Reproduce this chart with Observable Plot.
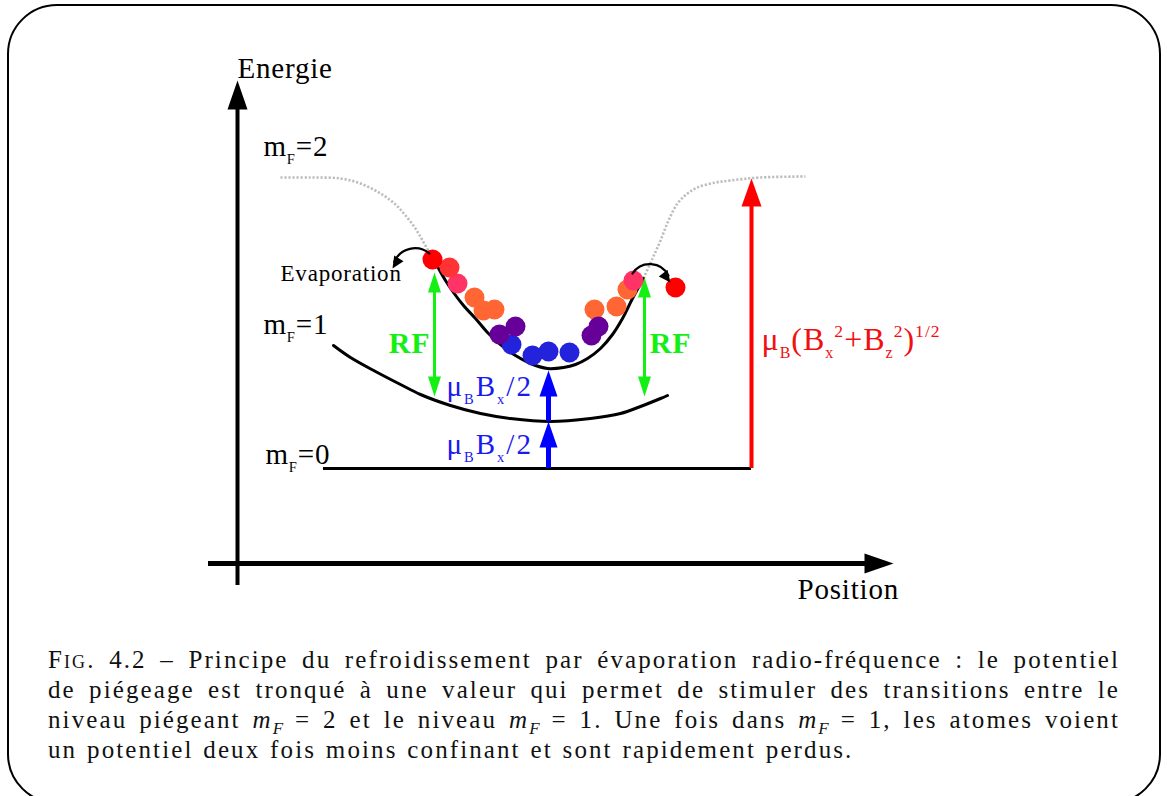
<!DOCTYPE html>
<html><head><meta charset="utf-8">
<script src="https://cdn.jsdelivr.net/npm/d3@7"></script>
<script src="https://cdn.jsdelivr.net/npm/@observablehq/plot@0.6"></script>
<style>
body{margin:0;background:#fff;width:1167px;height:796px;position:relative;overflow:hidden;font-family:"Liberation Serif","DejaVu Serif","Times New Roman",Times,serif}
#frame{position:absolute;left:7px;top:4px;width:1154px;height:800px;border:2px solid #000;border-radius:50px;box-sizing:border-box}
#chart{position:absolute;left:0;top:0}
#caption{position:absolute;left:48px;top:645px;width:1072px;font-size:25px;line-height:30px;color:#111;letter-spacing:2.1px;word-spacing:1.5px}
#caption div{text-align:justify;text-align-last:justify;height:30px;white-space:nowrap}
#caption div.last{text-align-last:left}
#caption sub{line-height:0;font-size:17px;letter-spacing:0}
.sc{font-variant:small-caps}
</style>
</head><body>
<div id="frame"></div>
<div id="chart"></div>
<div id="caption">
<div><span class="sc">Fig.</span> 4.2 – Principe du refroidissement par évaporation radio-fréquence : le potentiel</div>
<div>de piégeage est tronqué à une valeur qui permet de stimuler des transitions entre le</div>
<div>niveau piégeant <i>m</i><sub><i>F</i></sub> = 2 et le niveau <i>m</i><sub><i>F</i></sub> = 1. Une fois dans <i>m</i><sub><i>F</i></sub> = 1, les atomes voient</div>
<div class="last">un potentiel deux fois moins confinant et sont rapidement perdus.</div>
</div>
<script>
// Coordinates: position (trap centre = 0) and energy (m_F=0 level = 0), arbitrary units
const energyAxis = [{x: -3.13, y1: -1.17, y2: 3.88}];
const positionAxis = [{y: -0.95, x1: -3.42, x2: 3.43}];
const level0 = [{y: 0, x1: -2.27, x2: 2.01}];
const level1 = [
  {x: -2.17, y: 1.23}, {x: -2.00, y: 1.11}, {x: -1.75, y: 0.97}, {x: -1.50, y: 0.84},
  {x: -1.30, y: 0.74}, {x: -1.00, y: 0.63}, {x: -0.70, y: 0.55}, {x: -0.40, y: 0.50},
  {x: 0.00, y: 0.47}, {x: 0.40, y: 0.50}, {x: 0.70, y: 0.55}, {x: 0.90, y: 0.62},
  {x: 1.10, y: 0.70}, {x: 1.17, y: 0.73}
];
const level2Left = [
  {x: -2.70, y: 2.91}, {x: -2.40, y: 2.91}, {x: -2.10, y: 2.90}, {x: -1.90, y: 2.85},
  {x: -1.70, y: 2.75}, {x: -1.55, y: 2.64}, {x: -1.45, y: 2.53}, {x: -1.35, y: 2.40},
  {x: -1.28, y: 2.28}, {x: -1.20, y: 2.14}, {x: -1.13, y: 2.02}
];
const level2Trap = [
  {x: -1.13, y: 2.02}, {x: -1.05, y: 1.88}, {x: -0.97, y: 1.76}, {x: -0.87, y: 1.63},
  {x: -0.75, y: 1.50}, {x: -0.63, y: 1.36}, {x: -0.50, y: 1.24}, {x: -0.35, y: 1.13},
  {x: -0.20, y: 1.05}, {x: -0.03, y: 1.00}, {x: 0.13, y: 1.01}, {x: 0.25, y: 1.04},
  {x: 0.37, y: 1.10}, {x: 0.50, y: 1.20}, {x: 0.62, y: 1.34}, {x: 0.72, y: 1.50},
  {x: 0.82, y: 1.70}, {x: 0.93, y: 1.90}
];
const level2Right = [
  {x: 0.93, y: 1.90}, {x: 1.02, y: 2.10}, {x: 1.10, y: 2.28}, {x: 1.18, y: 2.48},
  {x: 1.27, y: 2.65}, {x: 1.37, y: 2.75}, {x: 1.47, y: 2.81}, {x: 1.65, y: 2.86},
  {x: 1.80, y: 2.88}, {x: 2.10, y: 2.91}, {x: 2.55, y: 2.92}
];
const atoms = [
  {x: -0.39, y: 1.24, c: "#2323dc"}, {x: -0.18, y: 1.13, c: "#2323dc"},
  {x: -0.02, y: 1.17, c: "#2323dc"}, {x: 0.19, y: 1.16, c: "#2323dc"},
  {x: -0.76, y: 1.71, c: "#ff6633"}, {x: -0.67, y: 1.58, c: "#ff6633"},
  {x: -0.56, y: 1.59, c: "#ff6633"},
  {x: 0.44, y: 1.59, c: "#ff6633"}, {x: 0.66, y: 1.62, c: "#ff6633"},
  {x: 0.77, y: 1.79, c: "#ff6633"},
  {x: -0.51, y: 1.34, c: "#660099"}, {x: -0.35, y: 1.42, c: "#660099"},
  {x: 0.41, y: 1.33, c: "#660099"}, {x: 0.48, y: 1.42, c: "#660099"},
  {x: -0.93, y: 1.85, c: "#ff3366"}, {x: 0.83, y: 1.88, c: "#ff3366"},
  {x: -1.01, y: 2.01, c: "#ff3333"},
  {x: -1.18, y: 2.09, c: "#ff0000"}, {x: 1.25, y: 1.81, c: "#ff0000"}
];
// y1 = base, y2 = tip
const rfArrows = [{x: -1.16, y1: 0.72, y2: 1.96}, {x: 0.94, y1: 0.72, y2: 1.91}];
const blueArrows = [{x: -0.02, y1: 0, y2: 0.47}, {x: -0.02, y1: 0.47, y2: 0.98}];
const redArrow = [{x: 2.01, y1: 0, y2: 2.90}];
const evapLeft = [{x1: -1.21, y1: 2.15, x2: -1.58, y2: 2.00}];
const evapRight = [{x1: 0.82, y1: 1.95, x2: 1.20, y2: 1.86}];
const axisLabels = [{x: -3.13, y: 3.91, text: "Energie"}, {x: 2.47, y: -1.30, text: "Position"}];
const levelLabels = [
  {x: -2.87, y: 3.13, text: "m_{F}=2"},
  {x: -2.87, y: 1.35, text: "m_{F}=1"},
  {x: -2.85, y: 0.05, text: "m_{F}=0"}
];
const evapLabel = [{x: -2.70, y: 1.88, text: "Evaporation"}];
const rfLabels = [{x: -1.41, y: 1.16, text: "RF"}, {x: 1.20, y: 1.16, text: "RF"}];
const blueLabels = [{x: -1.04, y: 0.73, text: "μ_{B}B_{x}/2"}, {x: -1.04, y: 0.15, text: "μ_{B}B_{x}/2"}];
const redLabel = [{x: 2.11, y: 1.19, text: "μ_{B}(B_{x}^{2}+B_{z}^{2})^{1/2}"}];

function head(len, half) {
  return {draw(ctx) { ctx.moveTo(0, 0); ctx.lineTo(half, len); ctx.lineTo(-half, len); ctx.closePath(); }};
}

const GREEN = "#14f014", BLUE = "#0000ff", RED = "#ff0000", BLUETXT = "#1a1af0", REDTXT = "#f01010";
const FONT = "'Liberation Serif', 'DejaVu Serif', 'Times New Roman', Times, serif";

const chart = Plot.plot({
  width: 1167, height: 630, margin: 0,
  x: {domain: [-5.5, 6.17], axis: null},
  y: {domain: [-1.62, 4.68], axis: null},
  style: {fontFamily: FONT, background: "transparent", overflow: "visible", letterSpacing: "0.8px"},
  marks: [
    Plot.line(level2Left, {x: "x", y: "y", curve: "catmull-rom", stroke: "#bdbdbd", strokeWidth: 2.6, strokeDasharray: "2.2,1.8", strokeLinecap: "butt"}),
    Plot.line(level2Right, {x: "x", y: "y", curve: "catmull-rom", stroke: "#bdbdbd", strokeWidth: 2.6, strokeDasharray: "2.2,1.8", strokeLinecap: "butt"}),
    Plot.line(level2Trap, {x: "x", y: "y", curve: "catmull-rom", stroke: "#000", strokeWidth: 3}),
    Plot.line(level1, {x: "x", y: "y", curve: "catmull-rom", stroke: "#000", strokeWidth: 3}),
    Plot.ruleY(level0, {y: "y", x1: "x1", x2: "x2", stroke: "#000", strokeWidth: 3}),
    // axes (rule y1 = top end so insetTop trims the arrow tip)
    Plot.ruleX(energyAxis, {x: "x", y1: "y2", y2: "y1", stroke: "#000", strokeWidth: 4, insetTop: 20}),
    Plot.dot(energyAxis, {x: "x", y: "y2", symbol: head(29, 10), fill: "#000", stroke: "none"}),
    Plot.ruleY(positionAxis, {y: "y", x1: "x1", x2: "x2", stroke: "#000", strokeWidth: 5, insetRight: 20}),
    Plot.dot(positionAxis, {x: "x2", y: "y", symbol: head(29, 10), rotate: 90, fill: "#000", stroke: "none"}),
    // blue arrows
    Plot.ruleX(blueArrows, {x: "x", y1: "y2", y2: "y1", stroke: BLUE, strokeWidth: 5, insetTop: 15}),
    Plot.dot(blueArrows, {x: "x", y: "y2", symbol: head(26, 9), fill: BLUE, stroke: "none"}),
    // red arrow
    Plot.ruleX(redArrow, {x: "x", y1: "y2", y2: "y1", stroke: RED, strokeWidth: 4, insetTop: 18}),
    Plot.dot(redArrow, {x: "x", y: "y2", symbol: head(28, 10), fill: RED, stroke: "none"}),
    // RF arrows
    Plot.ruleX(rfArrows, {x: "x", y1: "y2", y2: "y1", stroke: GREEN, strokeWidth: 3, insetTop: 12, insetBottom: 12}),
    Plot.dot(rfArrows, {x: "x", y: "y2", symbol: head(20, 6.5), fill: GREEN, stroke: "none"}),
    Plot.dot(rfArrows, {x: "x", y: "y1", symbol: head(20, 6.5), rotate: 180, fill: GREEN, stroke: "none"}),
    // atoms
    Plot.dot(atoms, {x: "x", y: "y", r: 10, fill: "c", stroke: "none"}),
    // evaporation arrows (curved shaft + filled head)
    Plot.arrow(evapLeft, {x1: "x1", y1: "y1", x2: "x2", y2: "y2", bend: -62, stroke: "#000", strokeWidth: 2.2, headLength: 0, insetEnd: 7}),
    Plot.dot(evapLeft, {x: "x2", y: "y2", symbol: head(12, 5.5), rotate: 212, fill: "#000", stroke: "none"}),
    Plot.arrow(evapRight, {x1: "x1", y1: "y1", x2: "x2", y2: "y2", bend: 70, stroke: "#000", strokeWidth: 2.2, headLength: 0, insetEnd: 7}),
    Plot.dot(evapRight, {x: "x2", y: "y2", symbol: head(12, 5.5), rotate: 142, fill: "#000", stroke: "none"}),
    // labels
    Plot.text(axisLabels, {x: "x", y: "y", text: "text", textAnchor: "start", lineAnchor: "bottom", fontSize: 29, fill: "#000"}),
    Plot.text(levelLabels, {x: "x", y: "y", text: "text", textAnchor: "start", lineAnchor: "bottom", fontSize: 29, fill: "#000"}),
    Plot.text(evapLabel, {x: "x", y: "y", text: "text", textAnchor: "start", lineAnchor: "bottom", fontSize: 23, fill: "#000"}),
    Plot.text(rfLabels, {x: "x", y: "y", text: "text", textAnchor: "middle", lineAnchor: "bottom", fontSize: 30, fontWeight: "bold", fill: GREEN}),
    Plot.text(blueLabels, {x: "x", y: "y", text: "text", textAnchor: "start", lineAnchor: "bottom", fontSize: 29, fill: BLUETXT}),
    Plot.text(redLabel, {x: "x", y: "y", text: "text", textAnchor: "start", lineAnchor: "bottom", fontSize: 32, fill: REDTXT})
  ]
});

function richify(svg) {
  svg.querySelectorAll("text").forEach(el => {
    const s = el.textContent;
    if (!/[_^]\{/.test(s)) return;
    const g = el.closest("[font-size]");
    const fs = g ? parseFloat(g.getAttribute("font-size")) : 16;
    el.textContent = "";
    let off = 0;
    const re = /([_^])\{([^}]*)\}|([^_^]+)/g;
    let m;
    while ((m = re.exec(s))) {
      const t = document.createElementNS("http://www.w3.org/2000/svg", "tspan");
      let target = 0, size = null;
      if (m[1] === "_") { target = 0.28 * fs; size = 0.5 * fs; t.textContent = m[2]; }
      else if (m[1] === "^") { target = -0.38 * fs; size = 0.55 * fs; t.textContent = m[2]; }
      else { t.textContent = m[3]; }
      if (target !== off) t.setAttribute("dy", (target - off).toFixed(2));
      if (size) t.setAttribute("font-size", size.toFixed(2));
      off = target;
      el.appendChild(t);
    }
  });
  svg.querySelectorAll(`g[fill="${BLUETXT}"]`).forEach(g => g.style.letterSpacing = "2px");
  svg.querySelectorAll(`g[fill="${REDTXT}"]`).forEach(g => g.style.letterSpacing = "1px");
}
richify(chart);
document.getElementById("chart").appendChild(chart);
</script>
</body></html>
